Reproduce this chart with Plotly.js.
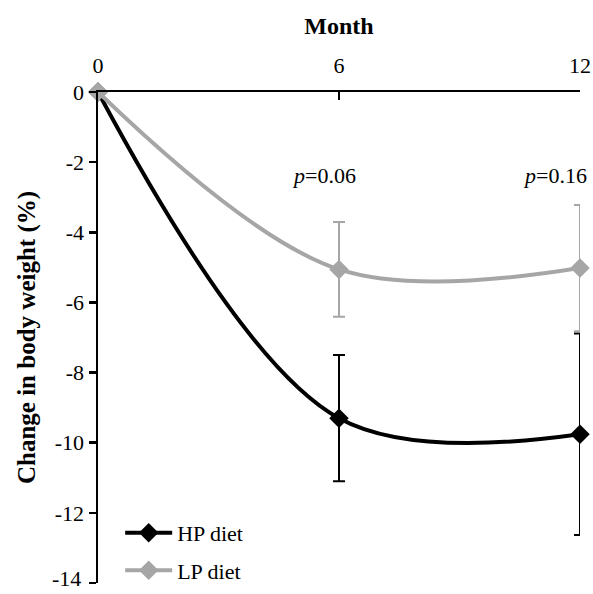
<!DOCTYPE html>
<html>
<head>
<meta charset="utf-8">
<script src="https://cdn.plot.ly/plotly-3.0.1.min.js"></script>
<style>html,body{margin:0;padding:0;background:#fff;}#chart{width:593px;height:594px;}</style>
</head>
<body>
<div id="chart"></div>
<script>
// Data
const months = [0, 6, 12];
const hpChange = [0, -9.3, -9.76];
const hpError = [0, 1.8, 2.87];
const lpChange = [0, -5.06, -5.02];
const lpError = [0, 1.35, 1.8];
const seriesNames = ['HP diet', 'LP diet'];
const yTickVals = [0, -2, -4, -6, -8, -10, -12, -14];
const yTickText = ['0', '-2', '-4', '-6', '-8', '-10', '-12', '-14'];
const xTickVals = [0, 6, 12];
const xTickText = ['0', '6', '12'];
const pLabels = ['<i>p</i>=0.06', '<i>p</i>=0.16'];
const pLabelX = [5.63, 11.38];
const pLabelY = [-2.37, -2.37];

const FONT = 'Liberation Serif, serif';
const BLACK = '#000000';
const GREY = '#A6A6A6';

const traces = [
  {
    x: months, y: hpChange, name: seriesNames[0], type: 'scatter', mode: 'lines+markers',
    legendgroup: 'hp',
    line: {color: BLACK, width: 4, shape: 'spline', smoothing: 1},
    marker: {symbol: 'diamond', size: 15, color: BLACK},
    error_y: {type: 'data', array: hpError, visible: true, color: BLACK, thickness: 2, width: 6},
    cliponaxis: false
  },
  {
    x: months, y: lpChange, name: seriesNames[1], type: 'scatter', mode: 'lines+markers',
    legendgroup: 'lp',
    line: {color: GREY, width: 4, shape: 'spline', smoothing: 1},
    marker: {symbol: 'diamond', size: 15, color: GREY},
    error_y: {type: 'data', array: lpError, visible: true, color: GREY, thickness: 2, width: 6},
    cliponaxis: false
  }
];

const annotations = pLabels.map((t, i) => ({
  x: pLabelX[i], y: pLabelY[i], xref: 'x', yref: 'y', text: t, showarrow: false,
  font: {family: FONT, size: 22, color: BLACK}, xanchor: 'center', yanchor: 'middle'
}));
// The lowest tick label sits at the very bottom edge, where Plotly drops it; draw it as an annotation
const lastIdx = yTickVals.length - 1;
annotations.push({
  x: 0, xref: 'paper', y: yTickVals[lastIdx], yref: 'y', text: yTickText[lastIdx],
  showarrow: false, xanchor: 'right', yanchor: 'bottom', xshift: -15, yshift: -10,
  font: {family: FONT, size: 22, color: BLACK}
});
const shownTickText = yTickText.map((t, i) => (i === lastIdx ? '' : t));

const layout = {
  width: 593, height: 594,
  margin: {l: 98, r: 13, t: 92, b: 11, autoexpand: false},
  paper_bgcolor: '#ffffff', plot_bgcolor: '#ffffff',
  font: {family: FONT, size: 22, color: BLACK},
  showlegend: true,
  legend: {
    x: 0.046, y: -0.018, xanchor: 'left', yanchor: 'bottom',
    traceorder: 'grouped', tracegroupgap: 6, itemwidth: 47,
    font: {family: FONT, size: 22, color: BLACK},
    bgcolor: 'rgba(0,0,0,0)'
  },
  xaxis: {
    side: 'top', range: [0, 12], tickvals: xTickVals, ticktext: xTickText,
    showline: true, linecolor: BLACK, linewidth: 2.5, showgrid: false, zeroline: false,
    ticks: 'inside', ticklen: 8, tickwidth: 2.5, tickcolor: BLACK,
    tickfont: {family: FONT, size: 22, color: BLACK},
    ticklabelstandoff: 8, automargin: false,
    title: {text: '<b>Month</b>', font: {family: FONT, size: 24, color: BLACK}, standoff: 12},
    fixedrange: true
  },
  yaxis: {
    range: [-14.001, 0], tickvals: yTickVals, ticktext: shownTickText,
    showline: true, linecolor: BLACK, linewidth: 2.5, showgrid: false, zeroline: false,
    ticks: 'outside', ticklen: 7, tickwidth: 2.5, tickcolor: BLACK,
    tickfont: {family: FONT, size: 22, color: BLACK},
    automargin: 'left',
    title: {text: '<b>Change in body weight (%)</b>', font: {family: FONT, size: 25, color: BLACK}, standoff: 12},
    fixedrange: true
  },
  annotations: annotations
};

Plotly.newPlot('chart', traces, layout, {displayModeBar: false, staticPlot: true});
</script>
</body>
</html>
